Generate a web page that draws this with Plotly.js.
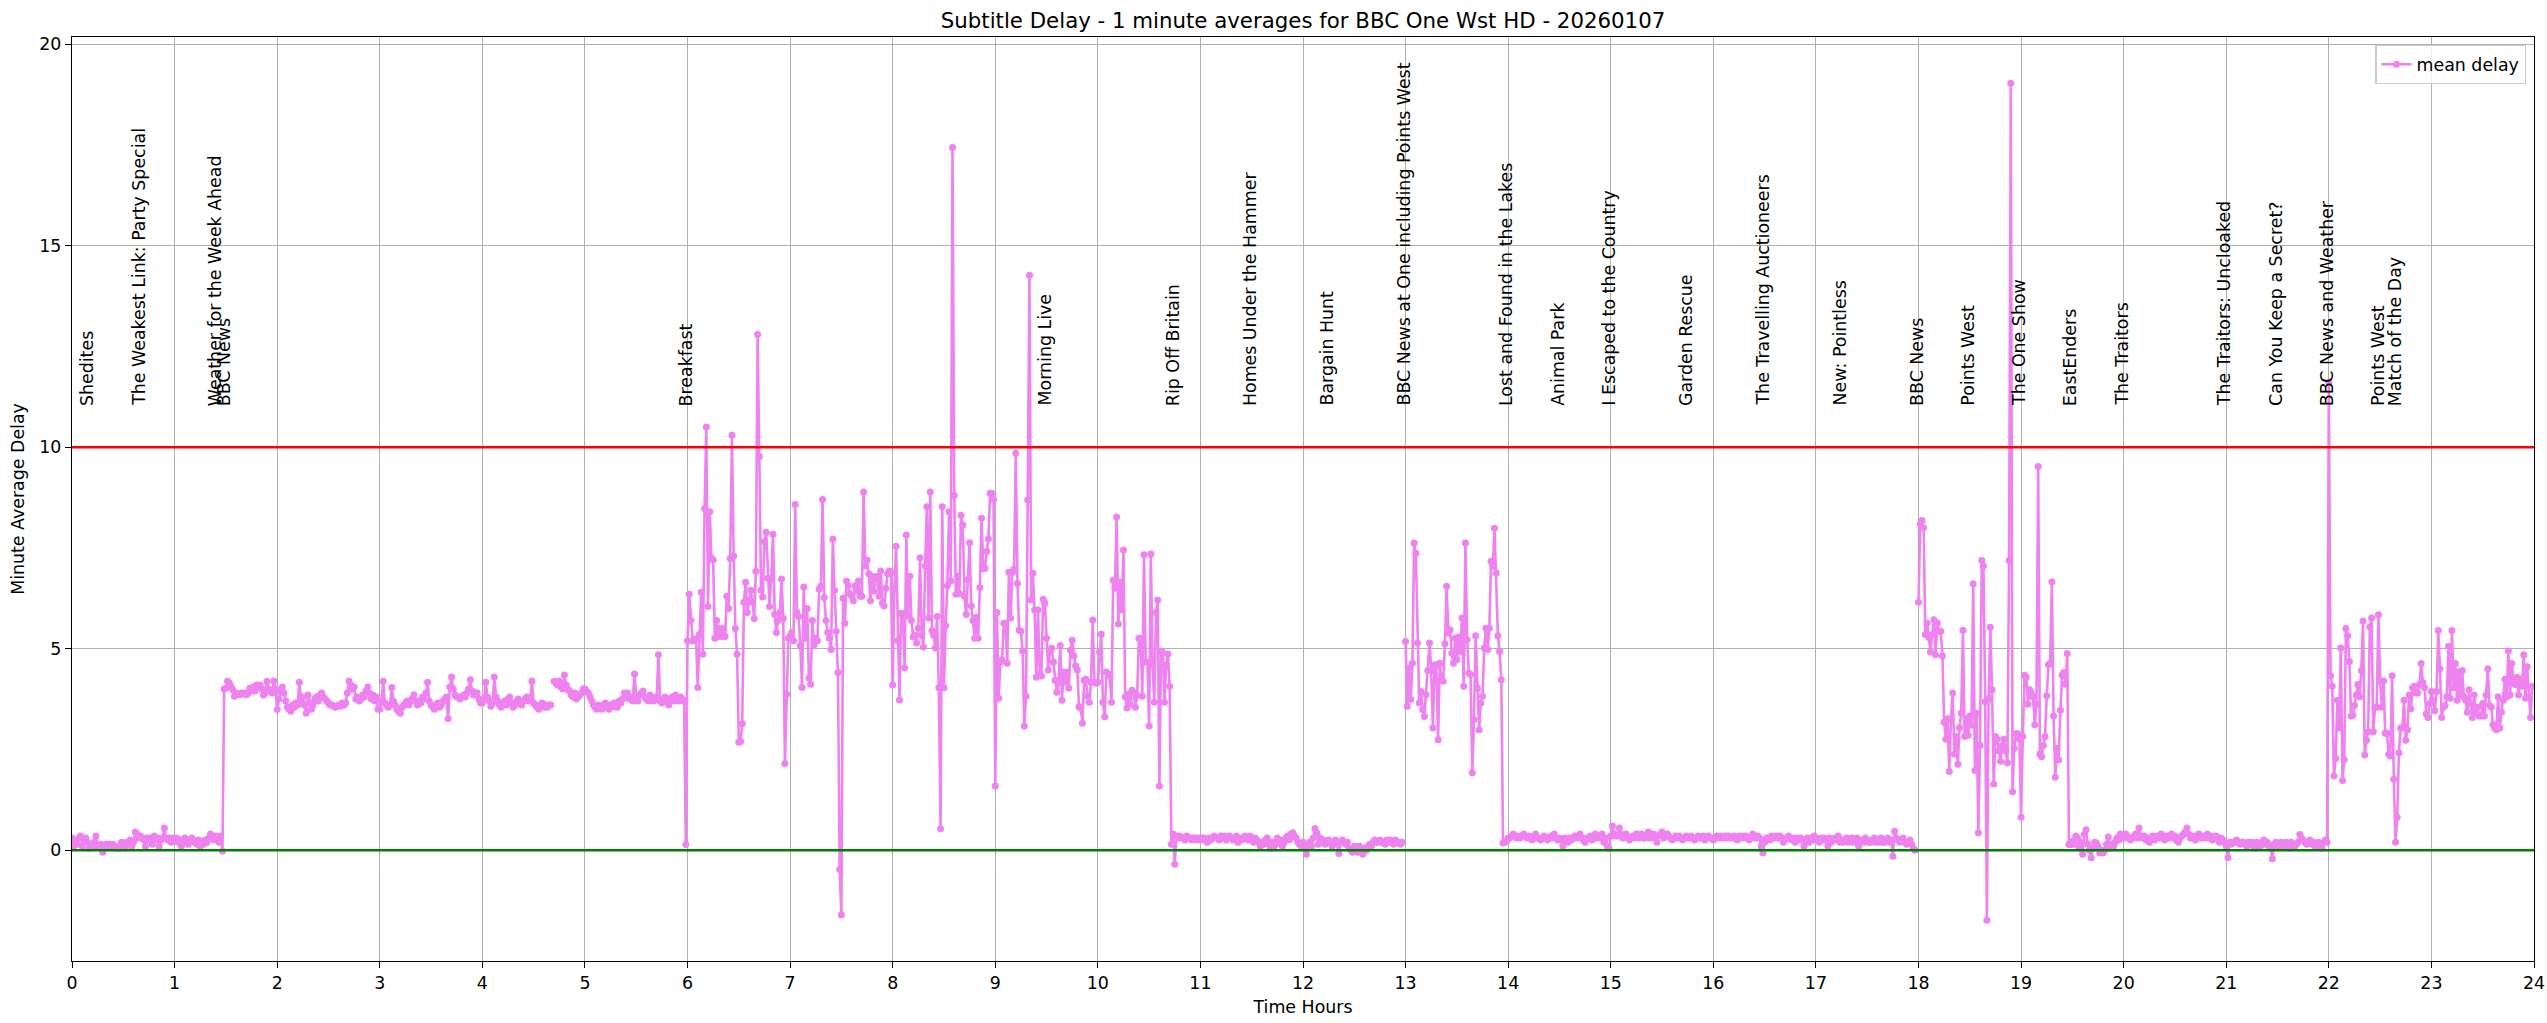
<!DOCTYPE html>
<html>
<head>
<meta charset="utf-8">
<script src="https://cdn.plot.ly/plotly-3.0.1.min.js"></script>
<style>html,body{margin:0;padding:0;background:#fff;}#chart{width:2547px;height:1023px;}</style>
</head>
<body>
<div id="chart"></div>
<script>
// ---- Data: one-minute average subtitle delay, one array per hour (60 minutes each) ----
const h00 = [0.3,0.1,0.2,0.15,0.3,0.35,0.1,0.25,0.3,0.2,0.05,0.15,0.1,0.2,0.35,0.1,0.1,0.15,-0.05,0.1,0.15,0.1,0.15,0.1,0.15,0.1,0.05,0.05,0.1,0.2,0.15,0.05,0.2,0.15,0.25,0.1,0.2,0.45,0.4,0.3,0.35,0.3,0.25,0.1,0.3,0.25,0.3,0.15,0.35,0.25,0.3,0.1,0.25,0.3,0.55,0.3,0.25,0.3,0.2,0.3];
const h01 = [0.25,0.3,0.2,0.25,0.1,0.2,0.3,0.25,0.15,0.2,0.3,0.25,0.2,0.15,0.25,0.1,0.2,0.15,0.25,0.2,0.3,0.4,0.3,0.25,0.35,0.3,0.2,0.35,-0.02,4.0,4.02,4.19,4.15,4.07,3.98,3.82,3.9,3.88,3.86,3.9,3.88,3.9,3.86,3.9,4.02,3.95,4.05,3.95,4.1,4.05,4.1,4.0,3.85,3.9,4.19,4.0,3.95,3.9,4.2,4.0];
const h02 = [3.49,3.75,3.95,4.05,3.9,3.7,3.55,3.5,3.45,3.6,3.55,3.65,3.6,4.17,3.7,3.8,3.6,3.4,3.85,3.65,3.5,3.6,3.75,3.8,3.7,3.85,3.9,3.8,3.75,3.7,3.65,3.6,3.6,3.57,3.55,3.57,3.6,3.57,3.65,3.6,3.65,3.9,4.2,4.1,4.0,4.05,3.75,3.8,3.7,3.75,3.85,3.8,3.95,4.05,3.9,3.75,3.85,3.7,3.8,3.5];
const h03 = [3.5,3.7,4.19,3.65,3.6,3.55,3.6,4.04,3.7,3.6,3.5,3.45,3.4,3.55,3.6,3.65,3.7,3.6,3.7,3.75,3.86,3.7,3.6,3.7,3.65,3.8,3.75,3.9,4.17,3.7,3.6,3.55,3.5,3.6,3.65,3.55,3.6,3.7,3.75,3.8,3.26,4.05,4.3,4.0,3.85,3.8,3.8,3.75,3.8,3.85,3.8,3.9,4.0,4.23,3.95,3.85,3.9,3.9,3.75,3.65];
const h04 = [3.65,3.75,4.17,3.8,3.7,3.57,3.65,4.3,3.8,3.7,3.6,3.55,3.65,3.7,3.6,3.75,3.8,3.65,3.55,3.6,3.7,3.75,3.65,3.6,3.7,3.75,3.8,3.7,3.75,4.19,3.65,3.6,3.55,3.5,3.6,3.65,3.55,3.6,3.55,3.6,3.6,null,4.19,4.15,4.1,4.2,4.05,4.0,4.35,4.1,4.0,3.95,3.85,3.8,3.9,3.75,3.8,3.85,3.9,4.0];
const h05 = [4.0,3.95,3.9,3.8,3.7,3.6,3.55,3.5,3.6,3.55,3.5,3.6,3.65,3.55,3.5,3.6,3.55,3.65,3.6,3.55,3.7,3.65,3.75,3.9,3.85,3.9,3.75,3.8,3.7,4.37,3.8,3.7,3.85,3.9,3.95,3.8,3.75,3.7,3.85,3.8,3.7,3.75,3.8,4.85,3.7,3.65,3.75,3.8,3.7,3.6,3.75,3.8,3.7,3.85,3.75,3.7,3.8,3.75,3.7,0.14];
const h06 = [5.2,6.35,5.7,5.2,5.2,5.25,4.04,5.36,6.4,4.86,8.48,10.5,6.05,8.4,7.24,7.2,5.26,5.7,5.3,5.5,5.3,5.5,5.3,6.3,6.0,7.24,10.3,7.3,5.5,4.86,2.68,2.7,3.14,6.15,6.65,5.9,6.2,6.45,6.15,5.75,6.92,12.8,9.77,6.45,6.28,7.66,7.89,6.75,6.05,6.75,7.84,5.85,5.4,5.7,5.9,6.73,5.75,2.15,3.87,5.26];
const h07 = [5.3,5.4,5.2,8.58,5.9,5.8,5.08,4.04,6.53,5.26,6.0,4.27,4.12,5.7,5.1,5.26,5.2,6.48,6.55,8.7,6.27,5.7,5.4,5.26,4.98,7.72,6.45,5.43,4.41,-0.48,-1.6,6.25,5.63,6.68,6.56,6.37,6.3,6.19,6.56,6.43,6.68,6.3,6.3,8.89,7.05,7.2,6.86,6.19,6.8,6.43,6.74,6.8,6.3,6.93,6.13,6.06,6.5,6.86,6.93,6.9];
const h08 = [4.1,6.5,7.54,5.2,3.73,5.88,5.88,4.53,7.82,5.82,6.8,5.7,5.29,5.33,5.14,5.51,7.26,5.33,5.04,7.05,8.52,5.76,8.89,5.45,5.33,5.02,5.8,4.03,0.53,8.52,4.03,5.57,6.56,8.4,6.68,17.44,8.8,6.35,6.8,6.37,8.31,8.07,6.3,5.85,6.72,7.63,6.06,5.7,5.26,5.78,5.26,6.52,8.24,6.99,6.99,7.42,7.72,8.86,8.86,8.7];
const h09 = [1.59,5.9,3.77,4.67,4.72,5.63,5.63,4.64,6.9,5.76,6.9,6.97,9.85,6.62,5.46,5.43,4.94,3.08,3.82,8.69,14.27,6.21,6.87,5.96,4.29,5.96,4.37,4.32,6.23,6.13,5.26,4.47,4.94,5.01,4.67,4.22,3.92,4.17,5.08,3.72,4.42,4.17,4.42,4.02,4.96,5.21,4.82,4.57,4.47,3.56,3.53,3.15,4.22,4.24,3.82,3.67,4.17,5.71,4.17,4.14];
const h10 = [4.17,4.92,5.36,3.67,3.31,4.42,4.37,4.32,3.67,6.7,6.5,8.27,5.61,6.65,5.96,7.45,3.8,3.53,3.87,3.62,3.97,3.9,3.55,3.84,5.26,5.26,3.82,7.33,4.67,4.67,3.08,7.35,4.6,3.67,5.9,6.21,1.59,4.94,4.9,3.67,4.6,4.87,4.07,0.15,0.4,-0.35,0.35,0.3,0.35,0.3,0.3,0.25,0.35,0.3,0.3,0.25,0.3,0.3,0.25,0.3];
const h11 = [0.25,0.3,0.3,0.25,0.2,0.3,0.25,0.3,0.35,0.3,0.3,0.25,0.35,0.3,0.35,0.25,0.3,0.35,0.3,0.25,0.3,0.35,0.2,0.3,0.25,0.3,0.35,0.3,0.25,0.35,0.3,0.2,0.3,0.25,0.2,0.1,0.2,0.15,0.25,0.3,0.15,0.05,0.2,0.1,0.15,0.3,0.2,0.25,0.1,0.2,0.3,0.35,0.25,0.4,0.43,0.35,0.3,0.2,0.15,0.1];
const h12 = [0.2,0.05,-0.1,0.15,0.2,0.1,0.3,0.54,0.43,0.15,0.3,0.2,0.25,0.15,0.2,0.25,0.2,0.1,0.2,0.25,0.15,-0.08,0.2,0.25,0.2,0.15,0.2,0.05,0.0,-0.05,0.1,0.0,-0.05,0.1,0.0,-0.1,0.05,0.0,0.1,0.15,0.1,0.2,0.25,0.2,0.2,0.25,0.2,0.2,0.15,0.25,0.2,0.25,0.2,0.15,0.25,0.2,0.2,0.15,0.2,null];
const h13 = [5.18,3.57,4.52,3.74,4.64,7.62,7.37,5.14,3.65,3.94,3.49,3.32,3.86,4.46,5.14,4.46,3.03,4.6,4.58,2.74,4.64,4.23,4.19,5.12,6.55,5.39,5.47,4.89,4.64,5.26,4.73,5.29,4.93,5.76,4.07,7.62,5.22,4.4,4.36,1.92,3.24,5.32,4.02,2.99,3.65,3.82,5.02,5.51,4.98,5.51,7.17,7.04,7.99,6.88,5.32,4.93,4.23,0.18,0.2,0.22];
const h14 = [0.3,0.3,0.35,0.4,0.35,0.3,0.35,0.3,0.35,0.4,0.35,0.3,0.35,0.3,0.25,0.35,0.4,0.3,0.3,0.25,0.3,0.35,0.3,0.25,0.3,0.35,0.3,0.4,0.3,0.25,0.3,0.25,0.1,0.3,0.25,0.2,0.3,0.25,0.3,0.35,0.3,0.35,0.4,0.3,0.25,0.2,0.3,0.3,0.35,0.25,0.3,0.4,0.3,0.35,0.3,0.4,0.2,0.3,0.1,0.05];
const h15 = [0.35,0.6,0.4,0.35,0.35,0.55,0.4,0.3,0.35,0.4,0.3,0.25,0.3,0.35,0.3,0.4,0.3,0.35,0.4,0.3,0.3,0.35,0.45,0.3,0.35,0.4,0.3,0.2,0.35,0.4,0.45,0.3,0.35,0.4,0.35,0.3,0.25,0.3,0.35,0.3,0.35,0.3,0.25,0.3,0.35,0.3,0.3,0.35,0.3,0.25,0.3,0.35,0.3,0.3,0.35,0.25,0.3,0.35,0.3,0.3];
const h16 = [0.25,0.3,0.35,0.3,0.35,0.3,0.3,0.35,0.3,0.35,0.3,0.3,0.35,0.3,0.25,0.35,0.3,0.35,0.3,0.35,0.3,0.25,0.3,0.4,0.3,0.3,0.35,0.3,0.1,-0.07,0.2,0.3,0.3,0.25,0.35,0.3,0.3,0.35,0.3,0.35,0.3,0.2,0.25,0.3,0.35,0.3,0.25,0.3,0.2,0.3,0.25,0.3,0.25,0.1,0.25,0.3,0.2,0.3,0.25,0.35];
const h17 = [0.3,0.25,0.2,0.3,0.25,0.3,0.25,0.1,0.3,0.2,0.25,0.3,0.25,0.35,0.2,0.25,0.2,0.25,0.3,0.2,0.25,0.3,0.2,0.25,0.3,0.1,0.2,0.25,0.2,0.3,0.25,0.2,0.2,0.25,0.3,0.2,0.25,0.2,0.3,0.2,0.2,0.25,0.3,0.2,0.25,-0.15,0.47,0.3,0.25,0.2,0.25,0.3,0.2,0.15,0.2,0.25,0.15,0.05,0.0,null];
const h18 = [6.15,8.1,8.18,8.0,5.35,5.64,5.28,4.92,5.35,5.72,4.85,5.64,5.43,5.43,4.82,3.18,2.75,3.26,1.95,3.26,3.9,2.39,2.82,2.13,3.04,3.4,5.46,2.82,3.26,2.85,3.33,3.1,6.61,1.98,3.4,0.43,2.6,7.19,7.05,3.69,-1.74,3.76,5.53,3.98,1.64,2.82,2.75,2.46,2.21,2.6,2.75,2.46,2.17,7.19,19.03,1.45,2.53,2.89,2.89,2.75];
const h19 = [0.82,2.82,4.34,4.3,3.62,3.98,3.9,3.8,3.11,3.62,9.52,2.39,2.32,2.6,2.82,3.83,4.6,4.63,6.66,3.33,1.81,2.53,2.24,3.47,4.34,4.41,4.12,4.88,0.14,0.14,0.22,0.15,0.35,0.3,0.05,0.2,-0.1,0.39,0.51,0.15,0.0,-0.19,0.05,0.2,0.18,0.1,-0.07,0.0,-0.07,0.0,0.15,0.33,0.05,0.15,0.1,0.2,0.3,0.25,0.4,0.35];
const h20 = [0.3,0.4,0.35,0.3,0.25,0.3,0.35,0.4,0.3,0.55,0.35,0.3,0.35,0.25,0.3,0.2,0.3,0.35,0.25,0.3,0.35,0.3,0.4,0.3,0.25,0.35,0.3,0.35,0.4,0.3,0.35,0.25,0.2,0.3,0.35,0.4,0.45,0.55,0.4,0.3,0.3,0.35,0.25,0.3,0.4,0.35,0.3,0.35,0.3,0.4,0.3,0.35,0.25,0.3,0.35,0.3,0.2,0.3,0.25,0.2];
const h21 = [0.1,-0.19,0.2,0.15,0.2,0.2,0.25,0.2,0.15,0.2,0.2,0.15,0.1,0.2,0.15,0.2,0.1,0.05,0.2,0.15,0.1,0.2,0.25,0.15,0.2,0.1,0.05,-0.21,0.15,0.2,0.1,0.15,0.2,0.1,0.15,0.2,0.1,0.05,0.2,0.15,0.1,0.15,0.2,0.39,0.3,0.25,0.2,0.15,0.2,0.25,0.15,0.2,0.1,0.15,0.2,0.1,0.05,0.2,0.25,0.2];
const h22 = [11.6,4.33,4.07,1.84,2.28,3.72,3.03,5.02,1.73,2.25,5.5,5.32,4.68,3.33,3.35,3.59,3.85,4.11,3.81,4.46,5.69,2.36,2.73,2.94,5.54,5.76,2.94,3.55,3.55,5.84,4.2,3.55,4.2,2.9,2.9,2.38,2.34,4.33,1.76,0.2,0.82,2.42,3.03,3.03,3.72,2.73,2.99,3.85,3.51,4.03,4.07,3.9,3.9,4.11,4.63,4.16,4.03,3.38,3.29,3.64];
const h23 = [3.94,3.72,3.46,3.94,5.45,4.5,3.29,3.55,3.59,3.81,5.06,3.77,5.45,4.03,4.63,3.72,4.42,3.85,4.46,3.81,3.72,3.42,3.98,3.64,3.29,3.85,3.42,3.55,3.33,3.33,3.64,3.33,3.85,4.5,3.59,3.55,3.12,3.03,2.99,3.81,3.03,3.42,3.72,4.24,3.81,4.94,3.85,4.63,4.16,4.11,4.29,3.85,4.24,4.07,4.85,3.77,4.55,3.81,3.29,4.07];

// Programme start labels (hours) and names
const progTimes = [0.167,0.667,1.417,1.5,6.0,9.5,10.75,11.5,12.25,13.0,14.0,14.5,15.0,15.75,16.5,17.25,18.0,18.5,19.0,19.5,20.0,21.0,21.5,22.0,22.5,22.667];
const progNames = ["Shedites","The Weakest Link: Party Special","Weather for the Week Ahead","BBC News","Breakfast","Morning Live","Rip Off Britain","Homes Under the Hammer","Bargain Hunt","BBC News at One including Points West","Lost and Found in the Lakes","Animal Park","I Escaped to the Country","Garden Rescue","The Travelling Auctioneers","New: Pointless","BBC News","Points West","The One Show","EastEnders","The Traitors","The Traitors: Uncloaked","Can You Keep a Secret?","BBC News and Weather","Points West","Match of the Day"];

const hours = [h00,h01,h02,h03,h04,h05,h06,h07,h08,h09,h10,h11,h12,h13,h14,h15,h16,h17,h18,h19,h20,h21,h22,h23];
const upperLimit = 10, lowerLimit = 0, labelY = 11;

const xs = [], ys = [];
hours.forEach((arr, h) => arr.forEach((v, m) => { xs.push(h + m / 60); ys.push(v); }));

const FONT = "DejaVu Sans, Verdana, sans-serif";
const FS = 17.4;

const trace = {
  x: xs, y: ys, type: 'scatter', mode: 'lines+markers', name: 'mean delay',
  line: {color: 'violet', width: 2.6},
  marker: {color: 'violet', size: 7},
  connectgaps: false
};

const annotations = progTimes.map((t, i) => ({
  x: t - 0.015, y: labelY, xref: 'x', yref: 'y', text: progNames[i],
  textangle: -90, showarrow: false, xanchor: 'center', yanchor: 'bottom',
  font: {family: FONT, size: FS, color: '#000'}, borderpad: 0
}));

const axisCommon = {
  showgrid: true, gridcolor: '#b0b0b0', gridwidth: 1.2, zeroline: false,
  showline: true, mirror: true, linecolor: '#000', linewidth: 1.4,
  ticks: 'outside', ticklen: 6, tickwidth: 1.4, tickcolor: '#000',
  tickfont: {family: FONT, size: FS, color: '#000'}, automargin: false,
  ticklabeloverflow: 'allow'
};

const layout = {
  width: 2547, height: 1023,
  margin: {l: 72, r: 13, t: 37, b: 62},
  paper_bgcolor: '#fff', plot_bgcolor: '#fff',
  font: {family: FONT, size: FS, color: '#000'},
  title: {text: 'Subtitle Delay - 1 minute averages for BBC One Wst HD - 20260107',
          font: {family: FONT, size: 21.3, color: '#000'},
          x: 0.5, xref: 'paper', xanchor: 'center', y: 1 - 21 / 1023, yref: 'container', yanchor: 'middle'},
  xaxis: Object.assign({}, axisCommon, {range: [0, 24], tickmode: 'linear', tick0: 0, dtick: 1,
          title: {text: 'Time Hours', font: {family: FONT, size: FS, color: '#000'}, standoff: 8}}),
  yaxis: Object.assign({}, axisCommon, {range: [-2.75, 20.18], tickmode: 'linear', tick0: 0, dtick: 5,
          title: {text: 'Minute Average Delay', font: {family: FONT, size: FS, color: '#000'}, standoff: 10}}),
  showlegend: true,
  legend: {x: 0.9968, y: 0.9913, xanchor: 'right', yanchor: 'top', bgcolor: 'rgba(255,255,255,0.8)',
           bordercolor: '#cccccc', borderwidth: 1.4, font: {family: FONT, size: FS, color: '#000'}},
  shapes: [
    {type: 'line', xref: 'paper', x0: 0, x1: 1, yref: 'y', y0: upperLimit, y1: upperLimit, line: {color: 'red', width: 2.5}, layer: 'above'},
    {type: 'line', xref: 'paper', x0: 0, x1: 1, yref: 'y', y0: lowerLimit, y1: lowerLimit, line: {color: 'green', width: 2.5}, layer: 'above'}
  ],
  annotations: annotations
};

Plotly.newPlot('chart', [trace], layout, {displayModeBar: false, responsive: false});
</script>
</body>
</html>
